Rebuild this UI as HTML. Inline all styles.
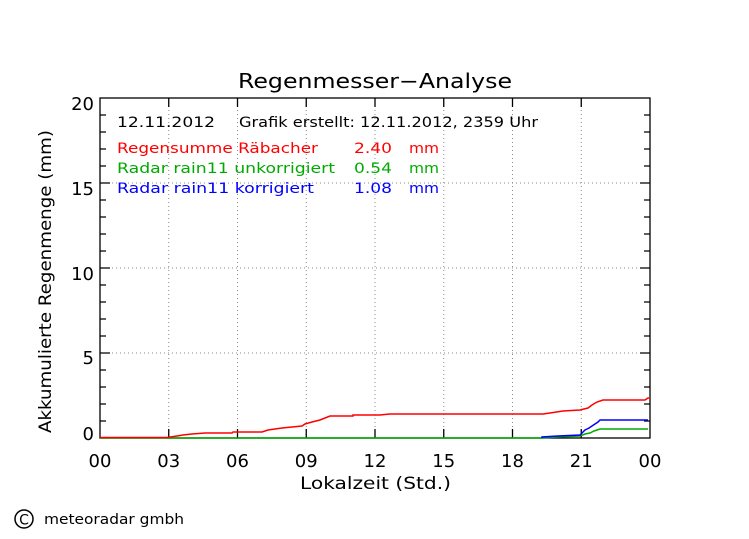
<!DOCTYPE html>
<html><head><meta charset="utf-8"><style>
html,body{margin:0;padding:0;background:#fff;}
svg{display:block;}
text{font-family:"DejaVu Sans","Liberation Sans",sans-serif;}
</style></head><body>
<svg width="749" height="539" viewBox="0 0 749 539" xmlns="http://www.w3.org/2000/svg">
<rect width="749" height="539" fill="#fff"/>
<g stroke="#888" stroke-width="1" stroke-dasharray="1,3">
<line x1="168.75" y1="98" x2="168.75" y2="438"/>
<line x1="237.5" y1="98" x2="237.5" y2="438"/>
<line x1="306.25" y1="98" x2="306.25" y2="438"/>
<line x1="375" y1="98" x2="375" y2="438"/>
<line x1="443.75" y1="98" x2="443.75" y2="438"/>
<line x1="512.5" y1="98" x2="512.5" y2="438"/>
<line x1="581.25" y1="98" x2="581.25" y2="438"/>
<line x1="100" y1="183" x2="650" y2="183"/>
<line x1="100" y1="268" x2="650" y2="268"/>
<line x1="100" y1="353" x2="650" y2="353"/>
</g>
<g stroke="#000" stroke-width="1.3" fill="none">
<rect x="100" y="98" width="550" height="340"/>
<path d="M100 115h6M100 132h6M100 149h6M100 166h6M100 183h10M100 200h6M100 217h6M100 234h6M100 251h6M100 268h10M100 285h6M100 302h6M100 319h6M100 336h6M100 353h10M100 370h6M100 387h6M100 404h6M100 421h6"/>
<path d="M650 115h-6M650 132h-6M650 149h-6M650 166h-6M650 183h-10M650 200h-6M650 217h-6M650 234h-6M650 251h-6M650 268h-10M650 285h-6M650 302h-6M650 319h-6M650 336h-6M650 353h-10M650 370h-6M650 387h-6M650 404h-6M650 421h-6"/>
<path d="M168.75 438v-9M237.5 438v-9M306.25 438v-9M375 438v-9M443.75 438v-9M512.5 438v-9M581.25 438v-9"/>
<path d="M168.75 98v9M237.5 98v9M306.25 98v9M375 98v9M443.75 98v9M512.5 98v9M581.25 98v9"/>
</g>
<polyline fill="none" stroke="#00aa00" stroke-width="1.5" points="100,438 542,438 558,437 580,436 585,434 590,433 594,431 597,430 600,429 648,429"/>
<polyline fill="none" stroke="#0000ff" stroke-width="1.5" points="542,438 542,437 558,436 580,435 583,432 585,430 589,428 592,426 595,424 598,422 600,420 648,420"/>
<polyline fill="none" stroke="#ff0000" stroke-width="1.5" points="100,437.5 167,437.5 177,436 183,435 192,434 205,433 232,433 233,432 262,432 268,430 282,428 302,426 305,424 312,422 320,420 330,416 353,416 353,415 380,415 390,414 543,414 550,413 563,411 580,410 584,409 588,408 592,405 597,402 603,400 645,400 648,398 650,398"/>
<text x="238" y="88" font-size="20" textLength="274" lengthAdjust="spacingAndGlyphs">Regenmesser−Analyse</text>
<g font-size="18" text-anchor="end">
<text x="94" y="110">20</text>
<text x="94" y="195">15</text>
<text x="94" y="280">10</text>
<text x="94" y="364">5</text>
<text x="94" y="440">0</text>
</g>
<g font-size="18" text-anchor="middle">
<text x="100" y="467">00</text>
<text x="168.75" y="467">03</text>
<text x="237.5" y="467">06</text>
<text x="306.25" y="467">09</text>
<text x="375" y="467">12</text>
<text x="443.75" y="467">15</text>
<text x="512.5" y="467">18</text>
<text x="581.25" y="467">21</text>
<text x="650" y="467">00</text>
</g>
<text x="300" y="489" font-size="17" textLength="151" lengthAdjust="spacingAndGlyphs">Lokalzeit (Std.)</text>
<text transform="translate(51,433) rotate(-90)" font-size="17" textLength="303" lengthAdjust="spacingAndGlyphs">Akkumulierte Regenmenge (mm)</text>
<g font-size="14.5">
<text x="117" y="127" textLength="98" lengthAdjust="spacingAndGlyphs">12.11.2012</text>
<text x="239" y="127" textLength="299" lengthAdjust="spacingAndGlyphs">Grafik erstellt: 12.11.2012, 2359 Uhr</text>
<text x="117" y="153" fill="#ff0000" textLength="201" lengthAdjust="spacingAndGlyphs">Regensumme Räbacher</text>
<text x="354" y="153" fill="#ff0000" textLength="38" lengthAdjust="spacingAndGlyphs">2.40</text>
<text x="409" y="153" fill="#ff0000" textLength="30" lengthAdjust="spacingAndGlyphs">mm</text>
<text x="117" y="173" fill="#00aa00" textLength="218" lengthAdjust="spacingAndGlyphs">Radar rain11 unkorrigiert</text>
<text x="354" y="173" fill="#00aa00" textLength="38" lengthAdjust="spacingAndGlyphs">0.54</text>
<text x="409" y="173" fill="#00aa00" textLength="30" lengthAdjust="spacingAndGlyphs">mm</text>
<text x="117" y="193" fill="#0000ff" textLength="197" lengthAdjust="spacingAndGlyphs">Radar rain11 korrigiert</text>
<text x="354" y="193" fill="#0000ff" textLength="38" lengthAdjust="spacingAndGlyphs">1.08</text>
<text x="409" y="193" fill="#0000ff" textLength="30" lengthAdjust="spacingAndGlyphs">mm</text>
</g>
<circle cx="24" cy="519" r="9" fill="none" stroke="#000" stroke-width="1.5"/>
<text x="24" y="524.5" font-size="14" text-anchor="middle">C</text>
<text x="44" y="524" font-size="14" textLength="140" lengthAdjust="spacingAndGlyphs">meteoradar gmbh</text>
</svg>
</body></html>
